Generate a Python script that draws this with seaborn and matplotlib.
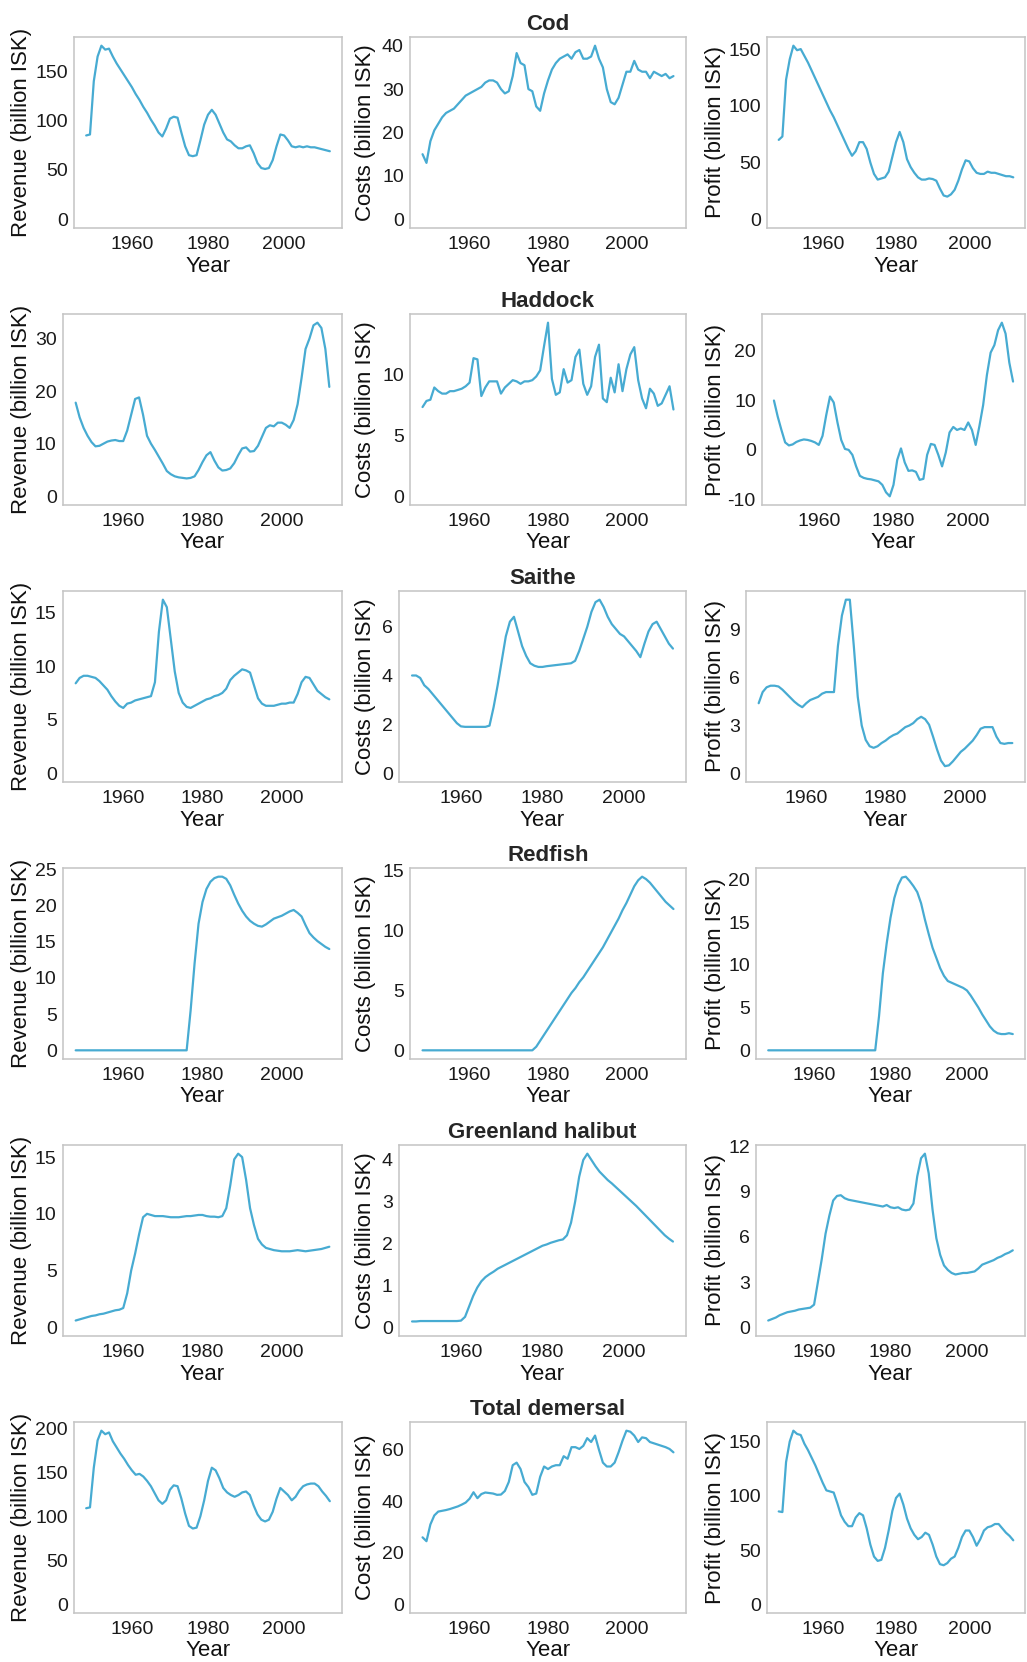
import matplotlib
matplotlib.use("Agg")
import matplotlib.pyplot as plt
import matplotlib.transforms as mtransforms
import pandas as pd
import seaborn as sns

# ---------------------------------------------------------------- data
years = list(range(1948, 2013))

species = ["Cod", "Haddock", "Saithe", "Redfish", "Greenland halibut", "Total demersal"]

cod_revenue = [85, 86, 140, 165, 176, 172, 173, 165, 158, 152,
               146, 140, 134, 127, 121, 114, 108, 101, 95, 88,
               84, 92, 102, 104, 103, 88, 74, 65, 64, 65,
               80, 96, 106, 111, 106, 97, 88, 81, 79, 75,
               72, 72, 74, 75, 67, 57, 52, 51, 52, 60,
               74, 86, 85, 80, 74, 73, 74, 73, 74, 73,
               73, 72, 71, 70, 69]
cod_costs = [15, 13, 18, 20.5, 22, 23.5, 24.5, 25, 25.5, 26.5,
             27.5, 28.5, 29, 29.5, 30, 30.5, 31.5, 32, 32, 31.5,
             30, 29, 29.5, 33, 38.3, 36, 35.5, 30, 29.5, 26,
             25, 29, 32, 34.5, 36, 37, 37.5, 38, 37, 38.5,
             39, 37, 37, 37.5, 40, 37, 35, 30, 27, 26.5,
             28, 31, 34, 34, 36.5, 34.5, 34, 34, 32.5, 34,
             33.5, 33, 33.5, 32.5, 33]
cod_profit = [70, 73, 123, 141, 153, 149, 150, 144, 138, 131,
              124, 117, 110, 103, 96, 90, 83, 76, 69, 62,
              56, 60, 68, 68, 62, 50, 40, 35, 36, 37,
              42, 55, 68, 77, 68, 53, 46, 41, 37, 35,
              35, 36, 35.5, 34, 27, 21, 20, 22, 26, 34,
              44, 52, 51, 45, 41, 40, 40, 42, 41, 41,
              40, 39, 38, 38, 37]

haddock_revenue = [17.8, 15, 13, 11.5, 10.3, 9.5, 9.6, 10, 10.4, 10.6,
                   10.7, 10.5, 10.5, 12.5, 15.5, 18.5, 18.8, 15.5, 11.5, 10,
                   8.8, 7.5, 6.2, 4.8, 4.2, 3.8, 3.6, 3.5, 3.4, 3.5,
                   3.8, 5, 6.5, 7.8, 8.4, 6.8, 5.5, 4.9, 5, 5.3,
                   6.3, 7.8, 9.1, 9.3, 8.5, 8.6, 9.6, 11.3, 13, 13.5,
                   13.3, 14, 14, 13.6, 13, 14.5, 17.5, 22.5, 28, 30,
                   32.5, 33, 32, 28, 20.8]
haddock_costs = [7.3, 7.8, 7.9, 8.9, 8.6, 8.4, 8.4, 8.6, 8.6, 8.7,
                 8.8, 9.0, 9.3, 11.3, 11.2, 8.2, 8.9, 9.4, 9.4, 9.4,
                 8.4, 8.9, 9.2, 9.5, 9.4, 9.2, 9.4, 9.4, 9.5, 9.8,
                 10.3, 12.3, 14.2, 9.6, 8.3, 8.5, 10.4, 9.3, 9.5, 11.4,
                 12.0, 9.2, 8.3, 9.0, 11.4, 12.4, 8.0, 7.7, 9.7, 8.5,
                 10.8, 8.6, 10.4, 11.6, 12.2, 9.5, 8.0, 7.2, 8.8, 8.4,
                 7.4, 7.6, 8.3, 9.0, 7.1]
haddock_profit = [9.9, 6.7, 4, 1.5, 0.9, 1.1, 1.6, 1.9, 2.1, 2.0,
                  1.8, 1.5, 1.0, 2.8, 7.0, 10.7, 9.5, 5.5, 2.0, 0.2,
                  0.0, -1.0, -3.3, -5.2, -5.6, -5.8, -5.9, -6.1, -6.3, -7.0,
                  -8.5, -9.3, -7.0, -2.0, 0.3, -2.5, -4.2, -4.1, -4.4, -6.0,
                  -5.8, -1.0, 1.2, 1.0, -1.0, -3.3, -0.5, 3.5, 4.6, 4.0,
                  4.3, 4.0, 5.5, 4.0, 1.0, 4.8, 9.0, 15.0, 19.5, 21.0,
                  24.0, 25.5, 23.3, 17.5, 13.7]

saithe_revenue = [8.4, 8.9, 9.1, 9.1, 9.0, 8.9, 8.6, 8.2, 7.8, 7.2,
                  6.7, 6.3, 6.1, 6.5, 6.6, 6.8, 6.9, 7.0, 7.1, 7.2,
                  8.5, 13.2, 16.2, 15.5, 12.5, 9.5, 7.5, 6.6, 6.2, 6.1,
                  6.3, 6.5, 6.7, 6.9, 7.0, 7.2, 7.3, 7.5, 7.9, 8.7,
                  9.1, 9.4, 9.7, 9.6, 9.4, 8.2, 7.0, 6.5, 6.3, 6.3,
                  6.3, 6.4, 6.5, 6.5, 6.6, 6.6, 7.4, 8.5, 9.0, 8.9,
                  8.3, 7.7, 7.4, 7.1, 6.9]
saithe_costs = [4.0, 4.0, 3.9, 3.6, 3.45, 3.25, 3.05, 2.85, 2.65, 2.45,
                2.25, 2.05, 1.92, 1.9, 1.9, 1.9, 1.9, 1.9, 1.9, 1.95,
                2.7, 3.6, 4.6, 5.6, 6.2, 6.4, 5.8, 5.2, 4.8, 4.5,
                4.4, 4.35, 4.35, 4.38, 4.4, 4.42, 4.44, 4.46, 4.48, 4.5,
                4.6, 5.0, 5.5, 6.0, 6.6, 7.0, 7.1, 6.8, 6.4, 6.1,
                5.9, 5.7, 5.6, 5.4, 5.2, 5.0, 4.75, 5.3, 5.8, 6.1,
                6.2, 5.9, 5.6, 5.3, 5.1]
saithe_profit = [4.4, 5.1, 5.4, 5.5, 5.5, 5.45, 5.25, 5.0, 4.75, 4.5,
                 4.3, 4.15, 4.4, 4.6, 4.7, 4.8, 5.0, 5.1, 5.1, 5.1,
                 8.0, 9.9, 10.9, 10.9, 8.0, 4.8, 3.0, 2.1, 1.7, 1.6,
                 1.7, 1.9, 2.05, 2.25, 2.4, 2.5, 2.7, 2.9, 3.0, 3.15,
                 3.4, 3.55, 3.4, 3.05, 2.3, 1.5, 0.8, 0.45, 0.5, 0.75,
                 1.05, 1.35, 1.55, 1.8, 2.05, 2.4, 2.8, 2.9, 2.9, 2.9,
                 2.3, 1.9, 1.85, 1.9, 1.9]

redfish_revenue = [0] * 29 + [5.5,
                   12, 17.5, 20.5, 22.3, 23.3, 23.8, 24.0, 24.0, 23.7, 22.8,
                   21.5, 20.3, 19.3, 18.5, 17.9, 17.5, 17.2, 17.1, 17.4, 17.8,
                   18.2, 18.4, 18.6, 18.9, 19.2, 19.4, 19.0, 18.5, 17.3, 16.2,
                   15.6, 15.1, 14.7, 14.3, 14.0]
redfish_costs = [0] * 29 + [0.3,
                 0.8, 1.3, 1.8, 2.3, 2.8, 3.3, 3.8, 4.3, 4.8, 5.2,
                 5.7, 6.1, 6.6, 7.1, 7.6, 8.1, 8.6, 9.2, 9.8, 10.4,
                 11.0, 11.7, 12.3, 13.0, 13.7, 14.2, 14.5, 14.3, 14.0, 13.6,
                 13.2, 12.8, 12.4, 12.1, 11.8]
redfish_profit = [0] * 29 + [4.0,
                  9.0, 12.5, 15.5, 17.8, 19.3, 20.2, 20.3, 19.8, 19.2, 18.5,
                  17.2, 15.3, 13.6, 12.0, 10.8, 9.6, 8.7, 8.1, 7.9, 7.7,
                  7.5, 7.3, 7.0, 6.4, 5.7, 5.0, 4.2, 3.5, 2.8, 2.3,
                  2.0, 1.9, 1.9, 2.0, 1.9]

halibut_revenue = [0.6, 0.7, 0.8, 0.9, 1.0, 1.05, 1.15, 1.2, 1.3, 1.4,
                   1.5, 1.55, 1.7, 3.0, 5.0, 6.5, 8.2, 9.7, 10.0, 9.9,
                   9.8, 9.8, 9.8, 9.75, 9.7, 9.7, 9.7, 9.75, 9.8, 9.8,
                   9.85, 9.9, 9.9, 9.8, 9.75, 9.75, 9.7, 9.8, 10.5, 12.5,
                   14.8, 15.3, 15.0, 13.0, 10.5, 9.0, 7.8, 7.3, 7.0, 6.9,
                   6.8, 6.75, 6.7, 6.7, 6.7, 6.75, 6.8, 6.75, 6.7, 6.75,
                   6.8, 6.85, 6.9, 7.0, 7.1]
halibut_costs = [0.14, 0.14, 0.15, 0.15, 0.15, 0.15, 0.15, 0.15, 0.15, 0.15,
                 0.15, 0.15, 0.16, 0.25, 0.5, 0.75, 0.95, 1.1, 1.2, 1.27,
                 1.33, 1.4, 1.45, 1.5, 1.55, 1.6, 1.65, 1.7, 1.75, 1.8,
                 1.85, 1.9, 1.95, 1.98, 2.02, 2.05, 2.08, 2.1, 2.2, 2.5,
                 3.0, 3.6, 4.0, 4.15, 4.0, 3.85, 3.72, 3.62, 3.52, 3.44,
                 3.35, 3.26, 3.17, 3.08, 2.99, 2.9, 2.8, 2.7, 2.6, 2.5,
                 2.4, 2.3, 2.2, 2.12, 2.05]
halibut_profit = [0.45, 0.55, 0.65, 0.8, 0.9, 1.0, 1.05, 1.1, 1.18, 1.22,
                  1.26, 1.3, 1.5, 3.0, 4.5, 6.2, 7.4, 8.4, 8.7, 8.75,
                  8.55, 8.45, 8.4, 8.35, 8.3, 8.25, 8.2, 8.15, 8.1, 8.05,
                  8.0, 8.1, 7.95, 7.9, 7.95, 7.8, 7.75, 7.8, 8.2, 10.0,
                  11.2, 11.5, 10.2, 7.8, 5.9, 4.8, 4.1, 3.8, 3.6, 3.5,
                  3.55, 3.6, 3.6, 3.65, 3.7, 3.9, 4.15, 4.25, 4.35, 4.45,
                  4.6, 4.7, 4.85, 4.95, 5.1]

total_revenue = [109, 110, 155, 186, 197, 193, 195, 185, 178, 171,
                 165, 158, 152, 147, 148, 145, 140, 134, 126, 118,
                 114, 118, 130, 135, 134, 120, 103, 89, 86, 87,
                 100, 118, 140, 155, 152, 143, 132, 127, 124, 122,
                 124, 127, 128, 124, 112, 102, 96, 94, 96, 105,
                 120, 132, 128, 124, 118, 122, 129, 134, 136, 137,
                 137, 134, 128, 123, 117]
total_costs = [26, 24.5, 31, 34.5, 36, 36.3, 36.6, 37, 37.5, 38,
               38.7, 39.5, 41, 43.5, 41.2, 42.8, 43.4, 43.2, 43, 42.5,
               42.6, 44, 47.5, 54, 55, 52.5, 47.5, 45.5, 42.5, 43,
               49.5, 53.5, 52.5, 53.5, 54, 54, 57.5, 56.5, 61, 61,
               60.3, 61.5, 64.5, 63, 65.5, 60, 55, 53.5, 53.5, 55,
               59, 63.5, 67.4, 67, 65.5, 63, 64.8, 64.5, 63, 62.5,
               62, 61.5, 61, 60.3, 59]
total_profit = [85.6, 85, 131, 150, 160, 157, 156, 148, 142, 135,
                128, 120, 112, 105, 104, 103, 93, 82, 76, 72,
                72, 80, 84, 82, 70, 55, 44, 40, 41, 52,
                68, 86, 98, 102, 92, 79, 70, 64, 60, 62,
                66, 64, 55, 44, 37, 36, 38, 42, 44, 52,
                62, 68, 68, 62, 54, 60, 68, 71, 72, 74,
                74, 70, 66, 63, 59]

revenue_rows = [cod_revenue, haddock_revenue, saithe_revenue,
                redfish_revenue, halibut_revenue, total_revenue]
cost_rows = [cod_costs, haddock_costs, saithe_costs,
             redfish_costs, halibut_costs, total_costs]
profit_rows = [cod_profit, haddock_profit, saithe_profit,
               redfish_profit, halibut_profit, total_profit]

y_titles = [["Revenue (billion ISK)", "Costs (billion ISK)", "Profit (billion ISK)"]] * 5 + \
           [["Revenue (billion ISK)", "Cost (billion ISK)", "Profit (billion ISK)"]]

y_breaks = [
    [[0, 50, 100, 150], [0, 10, 20, 30, 40], [0, 50, 100, 150]],
    [[0, 10, 20, 30], [0, 5, 10], [-10, 0, 10, 20]],
    [[0, 5, 10, 15], [0, 2, 4, 6], [0, 3, 6, 9]],
    [[0, 5, 10, 15, 20, 25], [0, 5, 10, 15], [0, 5, 10, 15, 20]],
    [[0, 5, 10, 15], [0, 1, 2, 3, 4], [0, 3, 6, 9, 12]],
    [[0, 50, 100, 150, 200], [0, 20, 40, 60], [0, 50, 100, 150]],
]
x_breaks = [1960, 1980, 2000]

# ---------------------------------------------------------------- style
sns.set_style("white")
plt.rcParams["font.family"] = ["Liberation Sans", "DejaVu Sans"]
plt.rcParams["axes.unicode_minus"] = False

W, H = 1027, 1662
fig = plt.figure(figsize=(W / 100, H / 100), dpi=100)
fig.patch.set_facecolor("white")

line_color = "#47ABD2"
frame_color = "#C4C4C4"

row_top0 = 37
row_pitch = 277
panel_h = 191
right_edges = [342, 686, 1025]
left_edges = [
    [74, 410, 767],
    [63, 410, 762],
    [63, 399, 746],
    [63, 410, 756],
    [63, 399, 756],
    [74, 410, 767],
]
ylabel_x = [22, 365, 715]
xlabel_gap = 38


def padded_limits(values):
    lo = min(0, min(values))
    hi = max(values)
    span = hi - lo
    return lo - 0.05 * span, hi + 0.05 * span


for r, name in enumerate(species):
    top = row_top0 + r * row_pitch
    columns = [revenue_rows[r], cost_rows[r], profit_rows[r]]
    for c in range(3):
        left = left_edges[r][c]
        right = right_edges[c]
        ax = fig.add_axes([left / W, 1 - (top + panel_h) / H,
                           (right - left) / W, panel_h / H])
        frame = pd.DataFrame({"Year": years, "value": columns[c]})
        sns.lineplot(data=frame, x="Year", y="value", ax=ax,
                     color=line_color, linewidth=1.6)

        ax.set_xlim(1944.8, 2015.2)
        ax.set_ylim(*padded_limits(columns[c]))
        ax.set_xticks(x_breaks)
        ax.set_yticks(y_breaks[r][c])
        ax.grid(False)
        for sp in ax.spines.values():
            sp.set_visible(True)
            sp.set_color(frame_color)
            sp.set_linewidth(1.1)
        ax.tick_params(axis="both", direction="out", length=3, width=0.8,
                       color="#6b6b6b", labelsize=14, labelcolor="#1a1a1a")
        ax.tick_params(axis="x", pad=3)
        ax.tick_params(axis="y", pad=1.5)

        ax.set_xlabel("Year", fontsize=16, color="#111111")
        ax.xaxis.label.set_va("center")
        ax.xaxis.set_label_coords(
            0.5, 1 - (top + panel_h + xlabel_gap) / H,
            transform=mtransforms.blended_transform_factory(ax.transAxes, fig.transFigure))

        ax.set_ylabel(y_titles[r][c], fontsize=16, color="#111111")
        ax.yaxis.label.set_va("center")
        ax.yaxis.set_label_coords(
            ylabel_x[c] / W, 0.5,
            transform=mtransforms.blended_transform_factory(fig.transFigure, ax.transAxes))

        if c == 1:
            ax.set_title(name, fontsize=16, fontweight="bold", pad=5)

fig.savefig("out.png", dpi=100, facecolor="white")
